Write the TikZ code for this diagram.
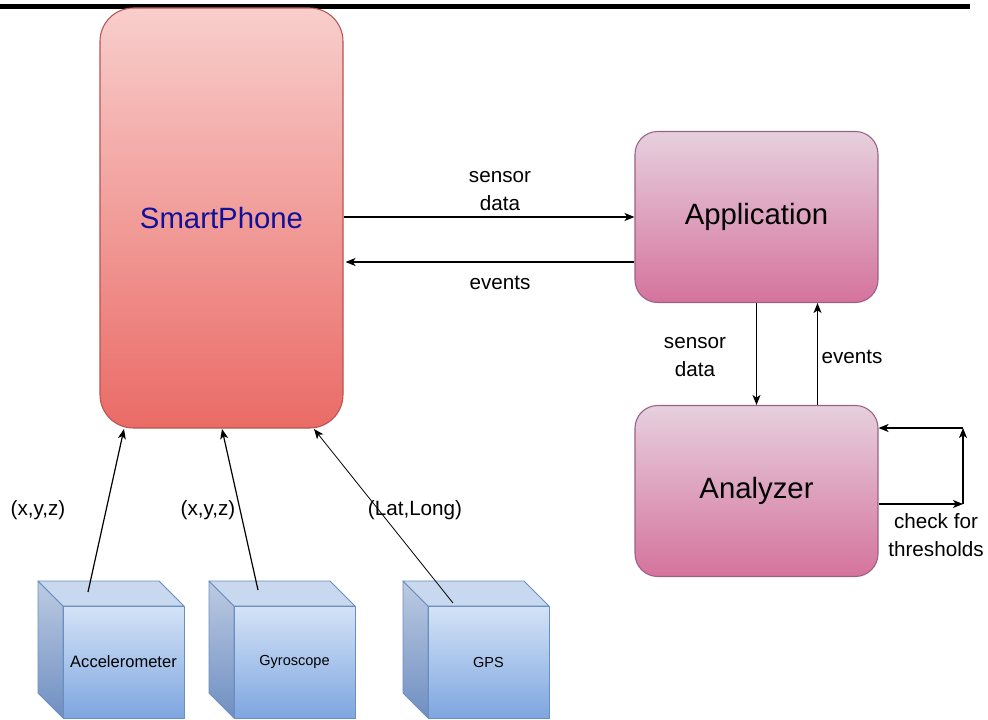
\documentclass[tikz,border=0pt]{standalone}
\usepackage{fontspec}
\setmainfont{Liberation Sans}
\usetikzlibrary{arrows.meta,calc}
\definecolor{spTop}{HTML}{F8CECC}
\definecolor{spBot}{HTML}{EA6B66}
\definecolor{spLine}{HTML}{B85450}
\definecolor{apTop}{HTML}{E6D0DE}
\definecolor{apBot}{HTML}{D5739D}
\definecolor{apLine}{HTML}{996185}
\definecolor{cbTop}{HTML}{D4E3F7}
\definecolor{cbBot}{HTML}{7EA6E0}
\definecolor{cbLine}{HTML}{6C8EBF}
\definecolor{cbLid}{HTML}{C8D8EE}
\definecolor{cbSideTop}{HTML}{BCCBE2}
\definecolor{cbSideBot}{HTML}{6F8FC2}
\definecolor{spText}{HTML}{10109A}
\begin{document}
\begin{tikzpicture}[x=0.75pt,y=-0.75pt,
  bigbox/.style={draw, line width=0.8pt, inner sep=0pt, shading=axis,
     font=\fontsize{22}{26}\selectfont},
  phonebox/.style={bigbox, draw=spLine, top color=spTop, bottom color=spBot,
     rounded corners=25pt, minimum width=243*0.75pt, minimum height=420*0.75pt,
     text=spText},
  appbox/.style={bigbox, draw=apLine, top color=apTop, bottom color=apBot,
     rounded corners=17pt, minimum width=243*0.75pt, minimum height=171*0.75pt},
  lbl/.style={align=center, inner sep=0pt, font=\fontsize{15.5}{21}\selectfont},
  conn/.style={line width=0.9pt, -{Stealth[length=7.5pt,width=6pt,inset=2pt]}},
  face/.style={draw=cbLine, line width=0.7pt, line join=round}
]
\useasboundingbox (0,0) rectangle (988,720);
% top rule
\fill[black] (0,4) rectangle (970,9);

% main boxes
\node[phonebox] (sp) at (221.5,218) {SmartPhone};
\node[appbox] (app) at (756.5,217) {Application};
\node[appbox] (an) at (756.5,491) {Analyzer};

% cubes
\newcommand{\sensorcube}[4]{%
  % #1 left x, #2 right x, #3 name, #4 label/font
  \path[face, shading=axis, top color=cbSideTop, bottom color=cbSideBot]
     (#1,581) -- (#1+25,606) -- (#1+25,718) -- (#1,693) -- cycle;
  \path[face, fill=cbLid] (#1,581) -- (#2-25,581) -- (#2,606) -- (#1+25,606) -- cycle;
  \node[face, shading=axis, top color=cbTop, bottom color=cbBot, inner sep=0pt,
     minimum width={(#2-#1-25)*0.75pt}, minimum height=112*0.75pt]
     (#3) at ({(#1+25+#2)/2},662) {#4};
}
\sensorcube{38}{184}{acc}{\fontsize{12.4}{14}\selectfont Accelerometer}
\sensorcube{209}{355}{gyr}{\fontsize{10.9}{13}\selectfont Gyroscope}
\sensorcube{403}{549}{gps}{\fontsize{10.9}{13}\selectfont GPS}

% connectors from sensors
\coordinate (accS) at (88,592);
\coordinate (gyrS) at (258,590);
\coordinate (gpsS) at (453,603);
\coordinate (accE) at (124,429);
\coordinate (gyrE) at (222,429);
\coordinate (gpsE) at (314,429);
\draw[conn] (accS) -- (accE);
\draw[conn] (gyrS) -- (gyrE);
\draw[conn, line width=0.6pt] (gpsS) -- (gpsE);

\node[lbl] (l1) at (38,510) {(x,y,z)};
\node[lbl] (l2) at (208,510) {(x,y,z)};
\node[lbl] (l3) at (415,510) {(Lat,Long)};

% phone <-> application
\draw[conn] (sp.east |- app.west) -- (app.west);
\draw[conn] ($(app.west)+(0,45)$) -- ($(sp.east |- app.west)+(2,45)$);
\node[lbl] (t1) at (500,191) {sensor\\data};
\node[lbl] (t2) at (500,283) {events};

% application <-> analyzer
\draw[conn] (app.south) -- (an.north);
\draw[conn] ($(an.north)+(61,0)$) -- ($(app.south)+(61,0)$);
\node[lbl] (t3) at (695,357) {sensor\\data};
\node[lbl] (t4) at (852,357) {events};

% self loop
\coordinate (c1) at (963,504);
\coordinate (c2) at (963,428);
\draw[conn] ($(an.east)+(0,13)$) -- (c1);
\draw[conn] (c1) -- (c2);
\draw[conn] (c2) -- (an.east |- c2);
\node[lbl] (t5) at (936,535) {check for\\thresholds};
\end{tikzpicture}
\end{document}
